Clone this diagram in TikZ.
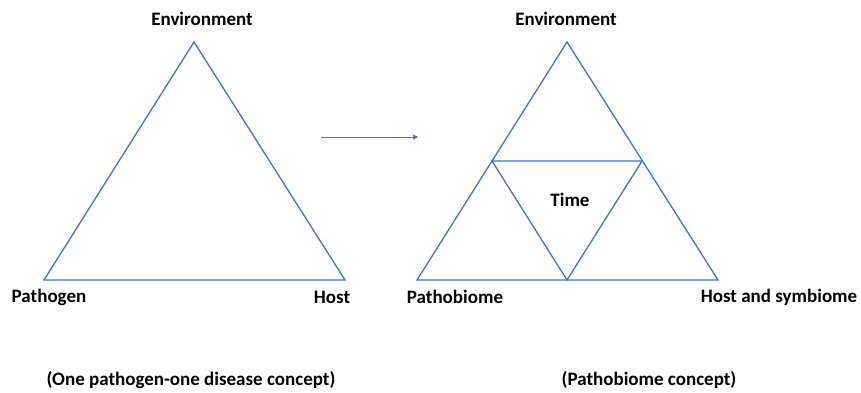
\documentclass[tikz,border=0pt]{standalone}
\usepackage{fontspec}
\setmainfont{Carlito}
\usetikzlibrary{arrows.meta}
\definecolor{tri}{HTML}{4472C4}
\begin{document}
\begin{tikzpicture}[x=1pt,y=-1pt,
  tri/.style={draw=tri, line width=1.3pt, line join=miter},
  lbl/.style={font=\bfseries\fontsize{19}{22}\selectfont, text=black, inner sep=0pt}]
\useasboundingbox (0,0) rectangle (861,392);
% left triangle
\coordinate (LA) at (194,42);
\coordinate (LB) at (44,280);
\coordinate (LC) at (345,280);
\draw[tri] (LA) -- (LB) -- (LC) -- cycle;
% right triangle
\coordinate (RA) at (567,42);
\coordinate (RB) at (417,280);
\coordinate (RC) at (718,280);
\coordinate (M1) at (492,161);
\coordinate (M2) at (642,161);
\coordinate (M3) at (567,280);
\draw[tri] (RA) -- (RB) -- (RC) -- cycle;
\draw[tri] (M1) -- (M2) -- (M3) -- cycle;
% arrow
\coordinate (A1) at (321,137);
\coordinate (A2) at (418,137);
\draw[draw=tri, line width=0.6pt, -{Triangle[length=5pt,width=5pt]}] (A1) -- (A2);
% labels
\node[lbl] (envL) at (202,19) {Environment};
\node[lbl] (envR) at (566,19) {Environment};
\node[lbl] (path) at (49,297) {Pathogen};
\node[lbl] (host) at (332,297) {Host};
\node[lbl] (pbio) at (455,297) {Pathobiome};
\node[lbl] (hsym) at (779,297) {Host and symbiome};
\node[lbl] (time) at (570,200) {Time};
\node[lbl] (capL) at (191,380) {(One pathogen-one disease concept)};
\node[lbl] (capR) at (649,380) {(Pathobiome concept)};
\end{tikzpicture}
\end{document}
